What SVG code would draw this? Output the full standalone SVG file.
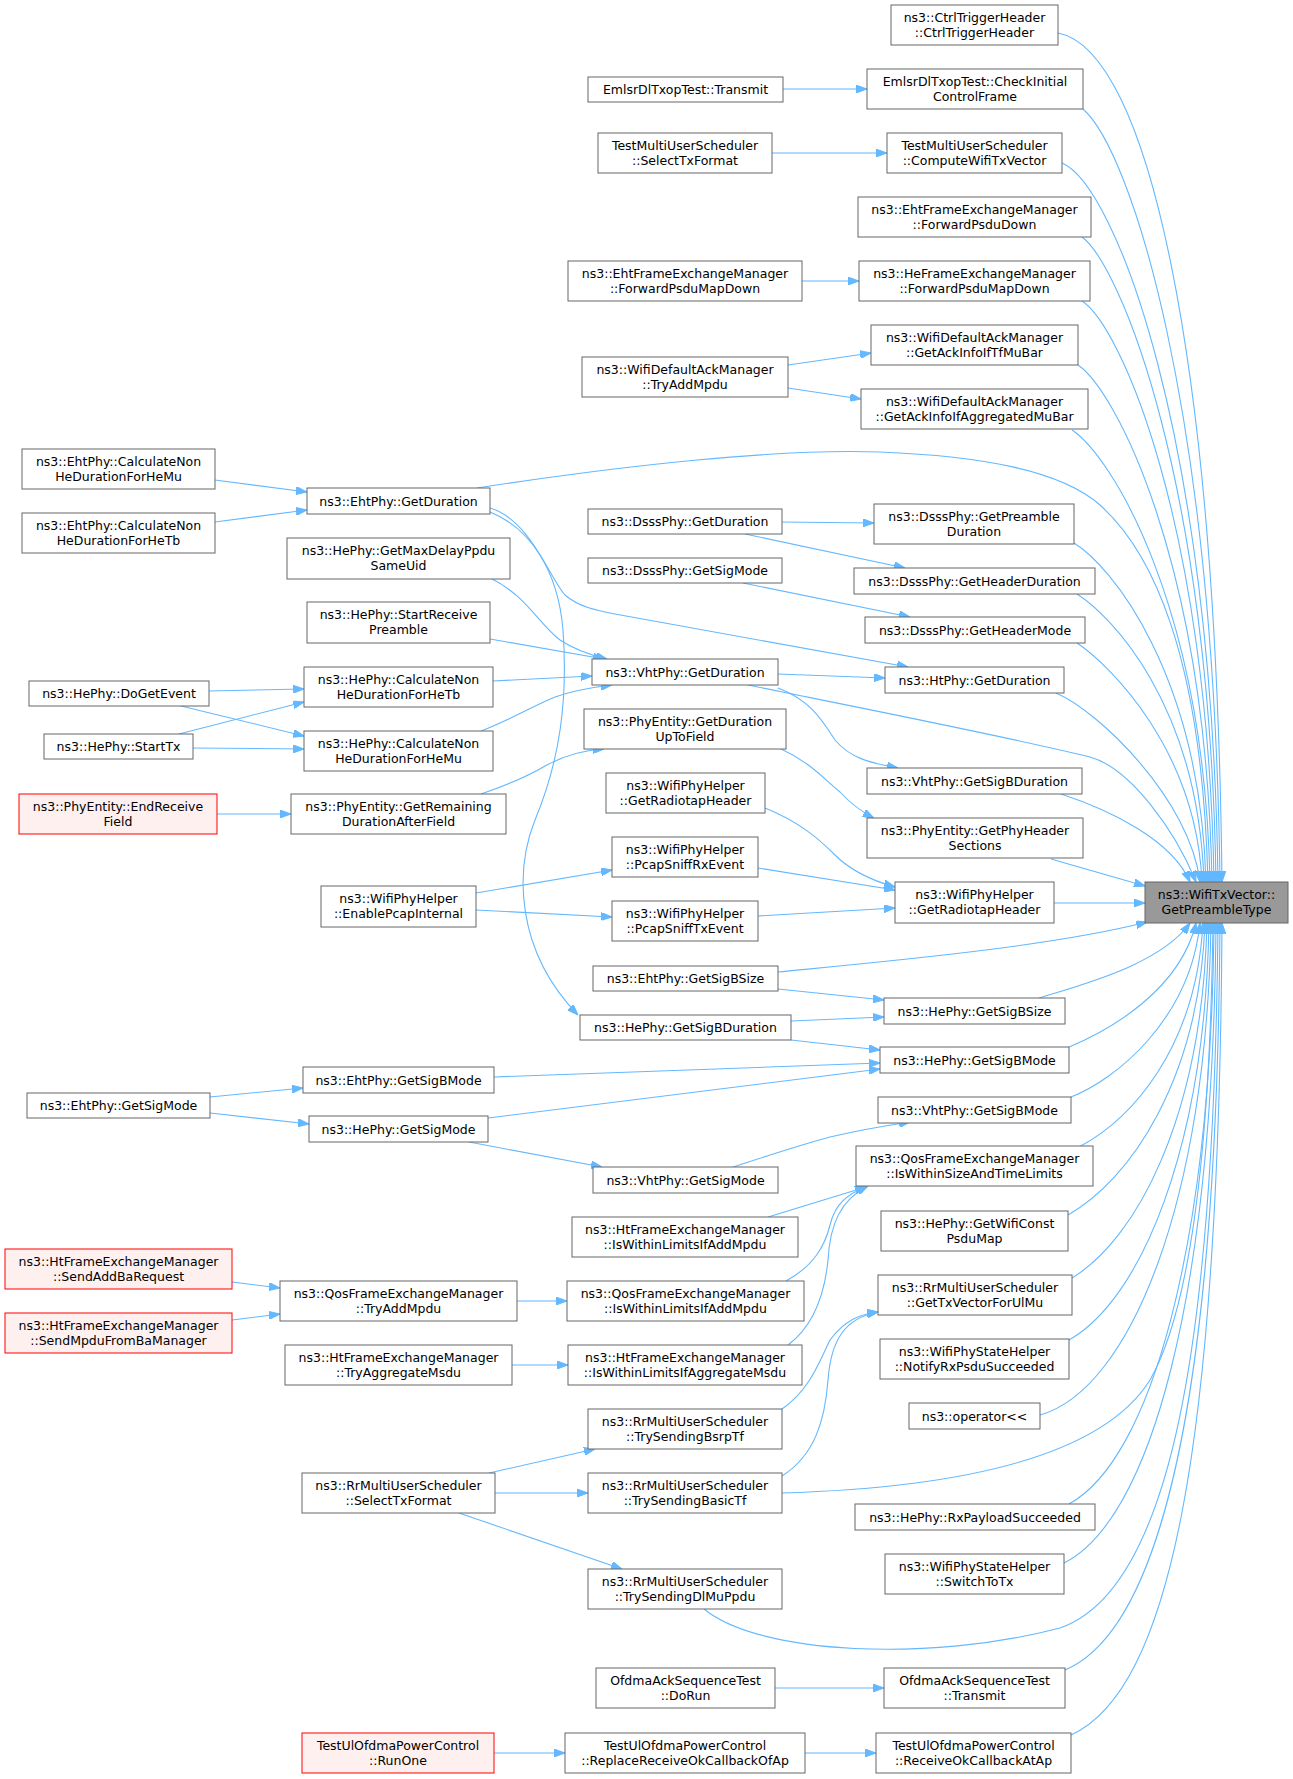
<svg xmlns="http://www.w3.org/2000/svg" width="1293" height="1779" viewBox="0 0 1293 1779">
<style>
.n rect{fill:#fff;stroke:#666;stroke-width:1}
.r rect{fill:#fff0f0;stroke:#f00;stroke-width:1}
.root rect{fill:#999;stroke:#666;stroke-width:1}
text{font-family:"DejaVu Sans","Liberation Sans",sans-serif;font-size:12.5px;text-anchor:middle;fill:#000}
.e path{fill:none;stroke:#63b8ff;stroke-width:1.1;marker-end:url(#a)}
</style>
<defs>
<marker id="a" viewBox="0 0 11 8" refX="11" refY="4" markerWidth="11" markerHeight="8" markerUnits="userSpaceOnUse" orient="auto">
<path d="M0,0 L11,4 L0,8 Z" fill="#63b8ff" stroke="#63b8ff"/>
</marker>
</defs>
<rect width="1293" height="1779" fill="#fff"/>
<g id="edges" class="e">
<path d="M1058,33 C1148,50 1216,356 1222,882"/>
<path d="M1083,109 C1130,150 1214,403 1220,882"/>
<path d="M1062,163 C1115,185 1212,436 1218,882"/>
<path d="M1082,237 C1120,265 1210,482 1216,882"/>
<path d="M1082,301 C1120,325 1208,522 1214,882"/>
<path d="M1078,365 C1115,390 1206,561 1212,882"/>
<path d="M1072,430 C1110,455 1204,602 1210,882"/>
<path d="M477,488 C620,466 780,448 880,452 C980,456 1060,470 1100,505 C1150,550 1202,650 1208,882"/>
<path d="M1074,543 C1110,565 1200,672 1206,882"/>
<path d="M1077,594 C1110,615 1198,703 1204,882"/>
<path d="M1077,643 C1110,665 1196,750 1202,882"/>
<path d="M1056,693 C1100,712 1190,800 1200,882"/>
<path d="M748,685 C850,706 1000,735 1090,757 C1130,768 1175,830 1196,882"/>
<path d="M1061,794 C1110,810 1172,840 1190,882"/>
<path d="M1051,859 L1145,886"/>
<path d="M1054,903 L1145,903"/>
<path d="M778,972 C880,962 1050,947 1147,922"/>
<path d="M1039,998 C1080,985 1160,965 1190,923"/>
<path d="M1069,1047 C1110,1030 1180,990 1196,923"/>
<path d="M1071,1097 C1115,1080 1190,1020 1200,923"/>
<path d="M1079,1147 C1130,1120 1196,1050 1203,923"/>
<path d="M1068,1215 C1130,1180 1199,1080 1205,923"/>
<path d="M1072,1278 C1135,1240 1202,1120 1207,923"/>
<path d="M1069,1340 C1140,1300 1205,1150 1209,923"/>
<path d="M1040,1415 C1130,1390 1207,1200 1211,923"/>
<path d="M782,1493 C950,1488 1100,1460 1150,1380 C1190,1310 1210,1150 1213,923"/>
<path d="M1069,1504 C1150,1460 1211,1250 1214,923"/>
<path d="M1064,1563 C1150,1520 1213,1300 1216,923"/>
<path d="M704,1609 C760,1655 930,1662 1060,1628 C1170,1590 1214,1350 1218,923"/>
<path d="M1065,1670 C1160,1630 1217,1400 1220,923"/>
<path d="M1071,1735 C1170,1690 1219,1450 1222,923"/>
<path d="M783,89 L867,89"/>
<path d="M772,153 L887,153"/>
<path d="M802,281 L859,281"/>
<path d="M788,365 L871,353"/>
<path d="M788,388 L861,399"/>
<path d="M215,480 L307,492"/>
<path d="M215,522 L307,510"/>
<path d="M490,508 C530,520 548,575 565,595 C580,608 600,611 615,614 L908,667"/>
<path d="M490,512 C530,528 558,570 563,630 C568,700 560,760 535,820 C515,870 515,950 578,1015"/>
<path d="M492,579 C525,595 540,625 560,640 C575,650 590,655 607,659"/>
<path d="M490,639 L604,659"/>
<path d="M493,681 L592,676"/>
<path d="M481,731 C510,720 535,705 555,697 C575,690 595,687 612,685"/>
<path d="M778,674 L885,678"/>
<path d="M778,688 C810,700 822,720 835,740 C850,758 870,763 898,768"/>
<path d="M209,691 L304,689"/>
<path d="M181,706 L304,736"/>
<path d="M179,734 L304,702"/>
<path d="M193,748 L304,749"/>
<path d="M217,814 L291,814"/>
<path d="M481,794 C510,784 530,775 545,766 C565,755 585,750 604,749"/>
<path d="M781,749 C810,762 825,780 840,792 C852,805 862,812 874,818"/>
<path d="M782,522 L874,523"/>
<path d="M745,534 L905,568"/>
<path d="M743,583 L910,617"/>
<path d="M765,808 C800,822 820,840 835,855 C850,870 870,880 895,887"/>
<path d="M758,868 L895,890"/>
<path d="M758,916 L895,908"/>
<path d="M476,893 L612,870"/>
<path d="M476,910 L612,917"/>
<path d="M778,989 L884,1000"/>
<path d="M791,1021 L884,1017"/>
<path d="M791,1040 L880,1050"/>
<path d="M494,1077 L880,1063"/>
<path d="M488,1118 L880,1069"/>
<path d="M210,1097 L303,1088"/>
<path d="M210,1113 L309,1124"/>
<path d="M469,1142 L602,1167"/>
<path d="M733,1167 C770,1155 800,1145 830,1137 C860,1130 890,1125 910,1122"/>
<path d="M768,1217 L866,1187"/>
<path d="M786,1281 C815,1265 825,1245 830,1225 C835,1205 845,1195 868,1186"/>
<path d="M788,1345 C815,1325 825,1290 828,1260 C830,1225 840,1200 868,1186"/>
<path d="M782,1409 C810,1390 820,1360 830,1340 C845,1320 860,1314 878,1312"/>
<path d="M782,1476 C815,1455 825,1420 828,1380 C831,1340 845,1318 878,1312"/>
<path d="M517,1301 L567,1301"/>
<path d="M232,1282 L280,1288"/>
<path d="M232,1320 L280,1314"/>
<path d="M512,1365 L568,1365"/>
<path d="M489,1473 L595,1449"/>
<path d="M495,1493 L588,1493"/>
<path d="M459,1513 L622,1569"/>
<path d="M775,1688 L884,1688"/>
<path d="M805,1753 L876,1753"/>
<path d="M494,1753 L565,1753"/>
</g>
<g id="root" class="root"><rect x="1145" y="882" width="143" height="41"/><text x="1216.5" y="899">ns3::WifiTxVector::</text><text x="1216.5" y="914">GetPreambleType</text></g>
<g id="r1" class="n"><rect x="891" y="5" width="167" height="40"/><text x="974.5" y="21.5">ns3::CtrlTriggerHeader</text><text x="974.5" y="36.5">::CtrlTriggerHeader</text></g>
<g id="r2" class="n"><rect x="867" y="69" width="216" height="40"/><text x="975" y="85.5">EmlsrDlTxopTest::CheckInitial</text><text x="975" y="100.5">ControlFrame</text></g>
<g id="r3" class="n"><rect x="887" y="133" width="175" height="40"/><text x="974.5" y="149.5">TestMultiUserScheduler</text><text x="974.5" y="164.5">::ComputeWifiTxVector</text></g>
<g id="r4" class="n"><rect x="858" y="197" width="233" height="40"/><text x="974.5" y="213.5">ns3::EhtFrameExchangeManager</text><text x="974.5" y="228.5">::ForwardPsduDown</text></g>
<g id="r5" class="n"><rect x="859" y="261" width="231" height="40"/><text x="974.5" y="277.5">ns3::HeFrameExchangeManager</text><text x="974.5" y="292.5">::ForwardPsduMapDown</text></g>
<g id="r6" class="n"><rect x="871" y="325" width="207" height="40"/><text x="974.5" y="341.5">ns3::WifiDefaultAckManager</text><text x="974.5" y="356.5">::GetAckInfoIfTfMuBar</text></g>
<g id="r7" class="n"><rect x="861" y="389" width="227" height="40"/><text x="974.5" y="405.5">ns3::WifiDefaultAckManager</text><text x="974.5" y="420.5">::GetAckInfoIfAggregatedMuBar</text></g>
<g id="r8" class="n"><rect x="874" y="504" width="200" height="40"/><text x="974" y="520.5">ns3::DsssPhy::GetPreamble</text><text x="974" y="535.5">Duration</text></g>
<g id="r9" class="n"><rect x="854" y="568" width="241" height="26"/><text x="974.5" y="585.5">ns3::DsssPhy::GetHeaderDuration</text></g>
<g id="r10" class="n"><rect x="865" y="617" width="220" height="26"/><text x="975" y="634.5">ns3::DsssPhy::GetHeaderMode</text></g>
<g id="r11" class="n"><rect x="885" y="667" width="179" height="26"/><text x="974.5" y="684.5">ns3::HtPhy::GetDuration</text></g>
<g id="r12" class="n"><rect x="867" y="768" width="215" height="26"/><text x="974.5" y="785.5">ns3::VhtPhy::GetSigBDuration</text></g>
<g id="r13" class="n"><rect x="867" y="818" width="216" height="40"/><text x="975" y="834.5">ns3::PhyEntity::GetPhyHeader</text><text x="975" y="849.5">Sections</text></g>
<g id="r14" class="n"><rect x="895" y="882" width="159" height="41"/><text x="974.5" y="899">ns3::WifiPhyHelper</text><text x="974.5" y="914">::GetRadiotapHeader</text></g>
<g id="r15" class="n"><rect x="884" y="998" width="181" height="26"/><text x="974.5" y="1015.5">ns3::HePhy::GetSigBSize</text></g>
<g id="r16" class="n"><rect x="880" y="1047" width="189" height="26"/><text x="974.5" y="1064.5">ns3::HePhy::GetSigBMode</text></g>
<g id="r17" class="n"><rect x="878" y="1097" width="193" height="26"/><text x="974.5" y="1114.5">ns3::VhtPhy::GetSigBMode</text></g>
<g id="r18" class="n"><rect x="856" y="1146" width="237" height="40"/><text x="974.5" y="1162.5">ns3::QosFrameExchangeManager</text><text x="974.5" y="1177.5">::IsWithinSizeAndTimeLimits</text></g>
<g id="r19" class="n"><rect x="881" y="1211" width="187" height="40"/><text x="974.5" y="1227.5">ns3::HePhy::GetWifiConst</text><text x="974.5" y="1242.5">PsduMap</text></g>
<g id="r20" class="n"><rect x="878" y="1275" width="194" height="40"/><text x="975" y="1291.5">ns3::RrMultiUserScheduler</text><text x="975" y="1306.5">::GetTxVectorForUlMu</text></g>
<g id="r21" class="n"><rect x="880" y="1339" width="189" height="40"/><text x="974.5" y="1355.5">ns3::WifiPhyStateHelper</text><text x="974.5" y="1370.5">::NotifyRxPsduSucceeded</text></g>
<g id="r22" class="n"><rect x="909" y="1403" width="131" height="26"/><text x="974.5" y="1420.5">ns3::operator&lt;&lt;</text></g>
<g id="r23" class="n"><rect x="855" y="1504" width="240" height="26"/><text x="975" y="1521.5">ns3::HePhy::RxPayloadSucceeded</text></g>
<g id="r24" class="n"><rect x="885" y="1554" width="179" height="40"/><text x="974.5" y="1570.5">ns3::WifiPhyStateHelper</text><text x="974.5" y="1585.5">::SwitchToTx</text></g>
<g id="r25" class="n"><rect x="884" y="1668" width="181" height="40"/><text x="974.5" y="1684.5">OfdmaAckSequenceTest</text><text x="974.5" y="1699.5">::Transmit</text></g>
<g id="r26" class="n"><rect x="876" y="1733" width="195" height="40"/><text x="973.5" y="1749.5">TestUlOfdmaPowerControl</text><text x="973.5" y="1764.5">::ReceiveOkCallbackAtAp</text></g>
<g id="m1" class="n"><rect x="588" y="77" width="195" height="25"/><text x="685.5" y="94">EmlsrDlTxopTest::Transmit</text></g>
<g id="m2" class="n"><rect x="598" y="133" width="174" height="40"/><text x="685" y="149.5">TestMultiUserScheduler</text><text x="685" y="164.5">::SelectTxFormat</text></g>
<g id="m3" class="n"><rect x="568" y="261" width="234" height="40"/><text x="685" y="277.5">ns3::EhtFrameExchangeManager</text><text x="685" y="292.5">::ForwardPsduMapDown</text></g>
<g id="m4" class="n"><rect x="582" y="357" width="206" height="40"/><text x="685" y="373.5">ns3::WifiDefaultAckManager</text><text x="685" y="388.5">::TryAddMpdu</text></g>
<g id="m5" class="n"><rect x="588" y="509" width="194" height="25"/><text x="685" y="526">ns3::DsssPhy::GetDuration</text></g>
<g id="m6" class="n"><rect x="588" y="558" width="194" height="25"/><text x="685" y="575">ns3::DsssPhy::GetSigMode</text></g>
<g id="m7" class="n"><rect x="592" y="659" width="186" height="26"/><text x="685" y="676.5">ns3::VhtPhy::GetDuration</text></g>
<g id="m8" class="n"><rect x="584" y="709" width="202" height="40"/><text x="685" y="725.5">ns3::PhyEntity::GetDuration</text><text x="685" y="740.5">UpToField</text></g>
<g id="m9" class="n"><rect x="606" y="773" width="159" height="40"/><text x="685.5" y="789.5">ns3::WifiPhyHelper</text><text x="685.5" y="804.5">::GetRadiotapHeader</text></g>
<g id="m10" class="n"><rect x="612" y="837" width="146" height="40"/><text x="685" y="853.5">ns3::WifiPhyHelper</text><text x="685" y="868.5">::PcapSniffRxEvent</text></g>
<g id="m11" class="n"><rect x="612" y="901" width="146" height="40"/><text x="685" y="917.5">ns3::WifiPhyHelper</text><text x="685" y="932.5">::PcapSniffTxEvent</text></g>
<g id="m12" class="n"><rect x="593" y="966" width="185" height="25"/><text x="685.5" y="983">ns3::EhtPhy::GetSigBSize</text></g>
<g id="m13" class="n"><rect x="580" y="1015" width="211" height="25"/><text x="685.5" y="1032">ns3::HePhy::GetSigBDuration</text></g>
<g id="m14" class="n"><rect x="593" y="1167" width="185" height="26"/><text x="685.5" y="1184.5">ns3::VhtPhy::GetSigMode</text></g>
<g id="m15" class="n"><rect x="572" y="1217" width="226" height="40"/><text x="685" y="1233.5">ns3::HtFrameExchangeManager</text><text x="685" y="1248.5">::IsWithinLimitsIfAddMpdu</text></g>
<g id="m16" class="n"><rect x="567" y="1281" width="237" height="40"/><text x="685.5" y="1297.5">ns3::QosFrameExchangeManager</text><text x="685.5" y="1312.5">::IsWithinLimitsIfAddMpdu</text></g>
<g id="m17" class="n"><rect x="568" y="1345" width="234" height="40"/><text x="685" y="1361.5">ns3::HtFrameExchangeManager</text><text x="685" y="1376.5">::IsWithinLimitsIfAggregateMsdu</text></g>
<g id="m18" class="n"><rect x="588" y="1409" width="194" height="40"/><text x="685" y="1425.5">ns3::RrMultiUserScheduler</text><text x="685" y="1440.5">::TrySendingBsrpTf</text></g>
<g id="m19" class="n"><rect x="588" y="1473" width="194" height="40"/><text x="685" y="1489.5">ns3::RrMultiUserScheduler</text><text x="685" y="1504.5">::TrySendingBasicTf</text></g>
<g id="m20" class="n"><rect x="588" y="1569" width="194" height="40"/><text x="685" y="1585.5">ns3::RrMultiUserScheduler</text><text x="685" y="1600.5">::TrySendingDlMuPpdu</text></g>
<g id="m21" class="n"><rect x="596" y="1668" width="179" height="40"/><text x="685.5" y="1684.5">OfdmaAckSequenceTest</text><text x="685.5" y="1699.5">::DoRun</text></g>
<g id="m22" class="n"><rect x="565" y="1733" width="240" height="40"/><text x="685" y="1749.5">TestUlOfdmaPowerControl</text><text x="685" y="1764.5">::ReplaceReceiveOkCallbackOfAp</text></g>
<g id="l1" class="n"><rect x="307" y="488" width="183" height="26"/><text x="398.5" y="505.5">ns3::EhtPhy::GetDuration</text></g>
<g id="l2" class="n"><rect x="287" y="538" width="223" height="41"/><text x="398.5" y="555">ns3::HePhy::GetMaxDelayPpdu</text><text x="398.5" y="570">SameUid</text></g>
<g id="l3" class="n"><rect x="307" y="602" width="183" height="41"/><text x="398.5" y="619">ns3::HePhy::StartReceive</text><text x="398.5" y="634">Preamble</text></g>
<g id="l4" class="n"><rect x="304" y="667" width="189" height="40"/><text x="398.5" y="683.5">ns3::HePhy::CalculateNon</text><text x="398.5" y="698.5">HeDurationForHeTb</text></g>
<g id="l5" class="n"><rect x="304" y="731" width="189" height="40"/><text x="398.5" y="747.5">ns3::HePhy::CalculateNon</text><text x="398.5" y="762.5">HeDurationForHeMu</text></g>
<g id="l6" class="n"><rect x="291" y="794" width="215" height="40"/><text x="398.5" y="810.5">ns3::PhyEntity::GetRemaining</text><text x="398.5" y="825.5">DurationAfterField</text></g>
<g id="l7" class="n"><rect x="321" y="886" width="155" height="41"/><text x="398.5" y="903">ns3::WifiPhyHelper</text><text x="398.5" y="918">::EnablePcapInternal</text></g>
<g id="l8" class="n"><rect x="303" y="1067" width="191" height="26"/><text x="398.5" y="1084.5">ns3::EhtPhy::GetSigBMode</text></g>
<g id="l9" class="n"><rect x="309" y="1116" width="179" height="26"/><text x="398.5" y="1133.5">ns3::HePhy::GetSigMode</text></g>
<g id="l10" class="n"><rect x="280" y="1281" width="237" height="40"/><text x="398.5" y="1297.5">ns3::QosFrameExchangeManager</text><text x="398.5" y="1312.5">::TryAddMpdu</text></g>
<g id="l11" class="n"><rect x="285" y="1345" width="227" height="40"/><text x="398.5" y="1361.5">ns3::HtFrameExchangeManager</text><text x="398.5" y="1376.5">::TryAggregateMsdu</text></g>
<g id="l12" class="n"><rect x="302" y="1473" width="193" height="40"/><text x="398.5" y="1489.5">ns3::RrMultiUserScheduler</text><text x="398.5" y="1504.5">::SelectTxFormat</text></g>
<g id="l13" class="r"><rect x="302" y="1733" width="192" height="40"/><text x="398" y="1749.5">TestUlOfdmaPowerControl</text><text x="398" y="1764.5">::RunOne</text></g>
<g id="f1" class="n"><rect x="22" y="449" width="193" height="40"/><text x="118.5" y="465.5">ns3::EhtPhy::CalculateNon</text><text x="118.5" y="480.5">HeDurationForHeMu</text></g>
<g id="f2" class="n"><rect x="22" y="513" width="193" height="40"/><text x="118.5" y="529.5">ns3::EhtPhy::CalculateNon</text><text x="118.5" y="544.5">HeDurationForHeTb</text></g>
<g id="f3" class="n"><rect x="29" y="681" width="180" height="25"/><text x="119" y="698">ns3::HePhy::DoGetEvent</text></g>
<g id="f4" class="n"><rect x="44" y="734" width="149" height="25"/><text x="118.5" y="751">ns3::HePhy::StartTx</text></g>
<g id="f5" class="r"><rect x="19" y="794" width="198" height="40"/><text x="118" y="810.5">ns3::PhyEntity::EndReceive</text><text x="118" y="825.5">Field</text></g>
<g id="f6" class="n"><rect x="27" y="1093" width="183" height="25"/><text x="118.5" y="1110">ns3::EhtPhy::GetSigMode</text></g>
<g id="f7" class="r"><rect x="5" y="1249" width="227" height="40"/><text x="118.5" y="1265.5">ns3::HtFrameExchangeManager</text><text x="118.5" y="1280.5">::SendAddBaRequest</text></g>
<g id="f8" class="r"><rect x="5" y="1313" width="227" height="40"/><text x="118.5" y="1329.5">ns3::HtFrameExchangeManager</text><text x="118.5" y="1344.5">::SendMpduFromBaManager</text></g>
</svg>
